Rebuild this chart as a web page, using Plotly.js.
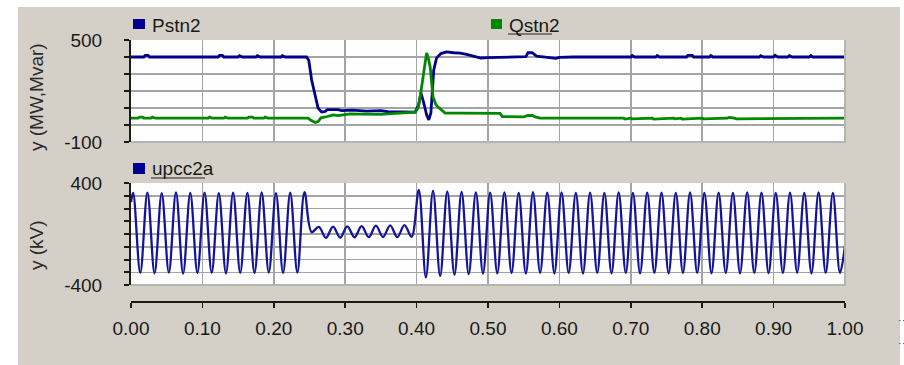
<!DOCTYPE html>
<html>
<head>
<meta charset="utf-8">
<script src="https://cdn.plot.ly/plotly-3.0.1.min.js"></script>
<style>html,body{margin:0;padding:0;background:#fff;}#chart{width:904px;height:365px;}</style>
</head>
<body>
<div id="chart"></div>
<script>
// ---- data ----
const xTickVals = [0, 0.1, 0.2, 0.3, 0.4, 0.5, 0.6, 0.7, 0.8, 0.9, 1.0];
const xTickText = ['0.00','0.10','0.20','0.30','0.40','0.50','0.60','0.70','0.80','0.90','1.00'];
const topTickVals = [-100, 0, 100, 200, 300, 400, 500];
const topTickText = ['-100', '', '', '', '', '', '500'];
const botTickVals = [-400, -300, -200, -100, 0, 100, 200, 300, 400];
const botTickText = ['-400', '', '', '', '', '', '', '', '400'];

const pTime = [0, 0.018, 0.020, 0.024, 0.026, 0.122, 0.124, 0.128, 0.130, 0.150, 0.152, 0.156, 0.175, 0.177, 0.181,
  0.210, 0.212, 0.216, 0.246, 0.249, 0.253, 0.258, 0.262, 0.267, 0.272, 0.275, 0.290, 0.295, 0.310, 0.330, 0.350,
  0.360, 0.380, 0.398, 0.403, 0.406, 0.410, 0.414, 0.417, 0.420, 0.424, 0.428, 0.434, 0.442, 0.452, 0.461, 0.470,
  0.479, 0.490, 0.500, 0.520, 0.540, 0.553, 0.556, 0.562, 0.568, 0.580, 0.585, 0.595, 0.600, 0.620, 0.700, 0.702,
  0.705, 0.735, 0.737, 0.740, 0.778, 0.780, 0.786, 0.788, 0.810, 0.812, 0.815, 0.880, 0.882, 0.886, 0.900, 0.902,
  0.906, 0.920, 0.922, 0.926, 0.950, 0.952, 0.955, 1.0];
const pVal = [400, 400, 410, 410, 400, 400, 410, 410, 400, 400, 408, 400, 400, 408, 400,
  400, 408, 400, 400, 380, 265, 165, 100, 76, 80, 90, 90, 85, 88, 82, 85,
  78, 76, 76, 120, 190, 130, 60, 30, 70, 324, 394, 420, 430, 425, 423, 415,
  405, 394, 396, 398, 400, 402, 425, 425, 405, 400, 394, 392, 398, 400, 400, 408,
  400, 400, 408, 400, 400, 410, 410, 400, 400, 408, 400, 400, 408, 400, 400, 410,
  400, 400, 408, 400, 400, 408, 400, 400];

const qTime = [0, 0.010, 0.012, 0.016, 0.018, 0.028, 0.030, 0.034, 0.108, 0.110, 0.114, 0.130, 0.132, 0.136,
  0.163, 0.165, 0.170, 0.172, 0.186, 0.188, 0.192, 0.248, 0.252, 0.258, 0.262, 0.266, 0.275, 0.283, 0.290,
  0.300, 0.307, 0.320, 0.350, 0.370, 0.380, 0.398, 0.402, 0.405, 0.409, 0.412, 0.414, 0.416, 0.419, 0.423,
  0.427, 0.430, 0.436, 0.440, 0.460, 0.500, 0.517, 0.520, 0.550, 0.556, 0.562, 0.566, 0.573, 0.690, 0.692,
  0.700, 0.702, 0.730, 0.732, 0.760, 0.762, 0.770, 0.772, 0.800, 0.802, 0.835, 0.838, 0.845, 0.848, 1.0];
const qVal = [40, 40, 46, 46, 40, 40, 46, 40, 40, 46, 40, 40, 46, 40,
  40, 46, 46, 40, 40, 46, 40, 40, 28, 15, 20, 42, 50, 59, 55,
  62, 66, 64, 62, 68, 72, 76, 100, 165, 280, 364, 424, 400, 341, 165,
  120, 106, 85, 70, 70, 69, 68, 50, 48, 56, 56, 48, 40, 40, 35,
  40, 36, 40, 35, 40, 36, 40, 35, 40, 36, 40, 45, 40, 36, 40];

const uTime = [0, 0.003, 0.013, 0.023, 0.033, 0.043, 0.053, 0.063, 0.073, 0.083, 0.093,
  0.103, 0.113, 0.123, 0.133, 0.143, 0.153, 0.163, 0.173, 0.183, 0.193,
  0.203, 0.213, 0.223, 0.233, 0.243, 0.253, 0.263, 0.273, 0.283, 0.293,
  0.303, 0.313, 0.323, 0.333, 0.343, 0.353, 0.363, 0.373, 0.383, 0.393,
  0.403, 0.413, 0.423, 0.433, 0.443, 0.453, 0.463, 0.473, 0.483, 0.493,
  0.503, 0.513, 0.523, 0.533, 0.543, 0.553, 0.563, 0.573, 0.583, 0.593,
  0.603, 0.613, 0.623, 0.633, 0.643, 0.653, 0.663, 0.673, 0.683, 0.693,
  0.703, 0.713, 0.723, 0.733, 0.743, 0.753, 0.763, 0.773, 0.783, 0.793,
  0.803, 0.813, 0.823, 0.833, 0.843, 0.853, 0.863, 0.873, 0.883, 0.893,
  0.903, 0.913, 0.923, 0.933, 0.943, 0.953, 0.963, 0.973, 0.983, 0.993, 1.0];
const uVal = [250, 322, -305, 325, -308, 320, -303, 326, -310, 322, -306,
  324, -304, 320, -309, 325, -305, 322, -307, 326, -303,
  321, -306, 324, -302, 328, 15, 55, -30, 58, -28, 60, -26, 62, -25,
  65, -24, 68, -24, 70, -22,
  345, -340, 340, -330, 335, -320, 330, -315, 326, -310,
  324, -308, 326, -306, 322, -310, 328, -305, 324, -308,
  326, -306, 322, -310, 325, -305, 323, -308, 326, -306,
  322, -309, 325, -305, 324, -308, 322, -306, 326, -305,
  323, -308, 325, -306, 322, -309, 326, -305, 324, -307,
  322, -306, 325, -304, 323, -308, 326, -305, 322, -305, -90];

// ---- layout helpers (pixel -> paper) ----
const W = 904, H = 365;
const px = v => v / W;
const py = v => 1 - v / H;
const font = "'Liberation Sans', Arial, sans-serif";
const gridC = '#a4a4a4';
const xDom = [px(131), px(845)];

const traces = [
  {x: pTime, y: pVal, xaxis: 'x2', yaxis: 'y', mode: 'lines', line: {color: '#00008c', width: 2.8}, hoverinfo: 'skip'},
  {x: qTime, y: qVal, xaxis: 'x2', yaxis: 'y', mode: 'lines', line: {color: '#008800', width: 2.8}, hoverinfo: 'skip'},
  {x: uTime, y: uVal, xaxis: 'x', yaxis: 'y2', mode: 'lines', line: {color: '#14149a', width: 2.3, shape: 'spline', smoothing: 1}, hoverinfo: 'skip'}
];

const yCommon = {
  showline: true, linecolor: '#1a1a1a', linewidth: 2, ticks: 'outside', ticklen: 5, tickwidth: 2, tickcolor: '#1a1a1a',
  showgrid: true, gridcolor: gridC, gridwidth: 1.5, zeroline: false, fixedrange: true,
  tickfont: {family: font, size: 19, color: '#1a1a1a'}, ticklabelstandoff: 18
};

const layout = {
  width: W, height: H,
  margin: {l: 0, r: 0, t: 0, b: 0},
  paper_bgcolor: '#d4d0c8',
  plot_bgcolor: '#fefefe',
  showlegend: false,
  xaxis: {
    domain: xDom, range: [0, 1], anchor: 'free', position: py(302),
    tickvals: xTickVals, ticktext: xTickText,
    showline: true, linecolor: '#1a1a1a', linewidth: 2, ticks: 'outside', ticklen: 5, tickwidth: 1.5, tickcolor: '#1a1a1a',
    showgrid: true, gridcolor: gridC, gridwidth: 1.5, zeroline: false, fixedrange: true,
    tickfont: {family: font, size: 19, color: '#1a1a1a'}, ticklabelstandoff: 4
  },
  xaxis2: {
    domain: xDom, range: [0, 1], anchor: 'y', tickvals: xTickVals, showticklabels: false, ticks: '',
    showline: false, showgrid: true, gridcolor: gridC, gridwidth: 1.5, zeroline: false, fixedrange: true
  },
  yaxis: Object.assign({}, yCommon, {domain: [py(142), py(40)], range: [-100, 500], anchor: 'x2',
    tickvals: topTickVals, ticktext: topTickText}),
  yaxis2: Object.assign({}, yCommon, {domain: [py(285), py(183)], range: [-400, 400], anchor: 'x',
    tickvals: botTickVals, ticktext: botTickText}),
  shapes: [
    {type: 'rect', xref: 'paper', yref: 'paper', x0: 0, x1: 1, y0: py(7), y1: 1, fillcolor: '#ffffff', line: {width: 0}, layer: 'below'},
    {type: 'rect', xref: 'paper', yref: 'paper', x0: 0, x1: px(18), y0: 0, y1: 1, fillcolor: '#ffffff', line: {width: 0}, layer: 'below'},
    {type: 'rect', xref: 'paper', yref: 'paper', x0: px(900), x1: 1, y0: 0, y1: 1, fillcolor: '#ffffff', line: {width: 0}, layer: 'below'},
    {type: 'line', xref: 'paper', yref: 'paper', x0: px(845), x1: px(845), y0: py(142), y1: py(40), line: {color: '#b4b4b4', width: 2}},
    {type: 'line', xref: 'paper', yref: 'paper', x0: px(131), x1: px(846), y0: py(142), y1: py(142), line: {color: '#b4b4b4', width: 2}},
    {type: 'line', xref: 'paper', yref: 'paper', x0: px(845), x1: px(845), y0: py(285), y1: py(183), line: {color: '#b4b4b4', width: 2}},
    {type: 'line', xref: 'paper', yref: 'paper', x0: px(131), x1: px(846), y0: py(285), y1: py(285), line: {color: '#b4b4b4', width: 2}},
    {type: 'rect', xref: 'paper', yref: 'paper', x0: px(133), x1: px(145), y0: py(29), y1: py(19), fillcolor: '#00008c', line: {width: 0}},
    {type: 'rect', xref: 'paper', yref: 'paper', x0: px(491), x1: px(502), y0: py(29), y1: py(19), fillcolor: '#008800', line: {width: 0}},
    {type: 'rect', xref: 'paper', yref: 'paper', x0: px(133), x1: px(145), y0: py(174), y1: py(163), fillcolor: '#00008c', line: {width: 0}},
    {type: 'line', xref: 'paper', yref: 'paper', x0: px(508), x1: px(552), y0: py(34), y1: py(34), line: {color: '#202020', width: 1.2}},
    {type: 'line', xref: 'paper', yref: 'paper', x0: px(151), x1: px(205), y0: py(178), y1: py(178), line: {color: '#202020', width: 1.2}}
  ],
  annotations: [
    {text: 'Pstn2', xref: 'paper', yref: 'paper', x: px(150), y: py(25), xanchor: 'left', yanchor: 'middle', showarrow: false,
      font: {family: font, size: 19, color: '#1a1a1a'}},
    {text: 'Qstn2', xref: 'paper', yref: 'paper', x: px(507), y: py(25), xanchor: 'left', yanchor: 'middle', showarrow: false,
      font: {family: font, size: 19, color: '#1a1a1a'}},
    {text: 'upcc2a', xref: 'paper', yref: 'paper', x: px(150), y: py(168), xanchor: 'left', yanchor: 'middle', showarrow: false,
      font: {family: font, size: 19, color: '#1a1a1a'}},
    {text: 'y (MW,Mvar)', xref: 'paper', yref: 'paper', x: px(36), y: py(97), xanchor: 'center', yanchor: 'middle', textangle: -90, showarrow: false,
      font: {family: font, size: 19, color: '#2a2a2a'}},
    {text: 'y (kV)', xref: 'paper', yref: 'paper', x: px(36), y: py(245), xanchor: 'center', yanchor: 'middle', textangle: -90, showarrow: false,
      font: {family: font, size: 19, color: '#2a2a2a'}},
    {text: '··', xref: 'paper', yref: 'paper', x: px(896), y: py(320), xanchor: 'left', yanchor: 'middle', showarrow: false,
      font: {family: font, size: 11, color: '#444'}},
    {text: '··', xref: 'paper', yref: 'paper', x: px(896), y: py(343), xanchor: 'left', yanchor: 'middle', showarrow: false,
      font: {family: font, size: 11, color: '#444'}}
  ]
};

Plotly.newPlot('chart', traces, layout, {staticPlot: true, displayModeBar: false});
</script>
</body>
</html>
